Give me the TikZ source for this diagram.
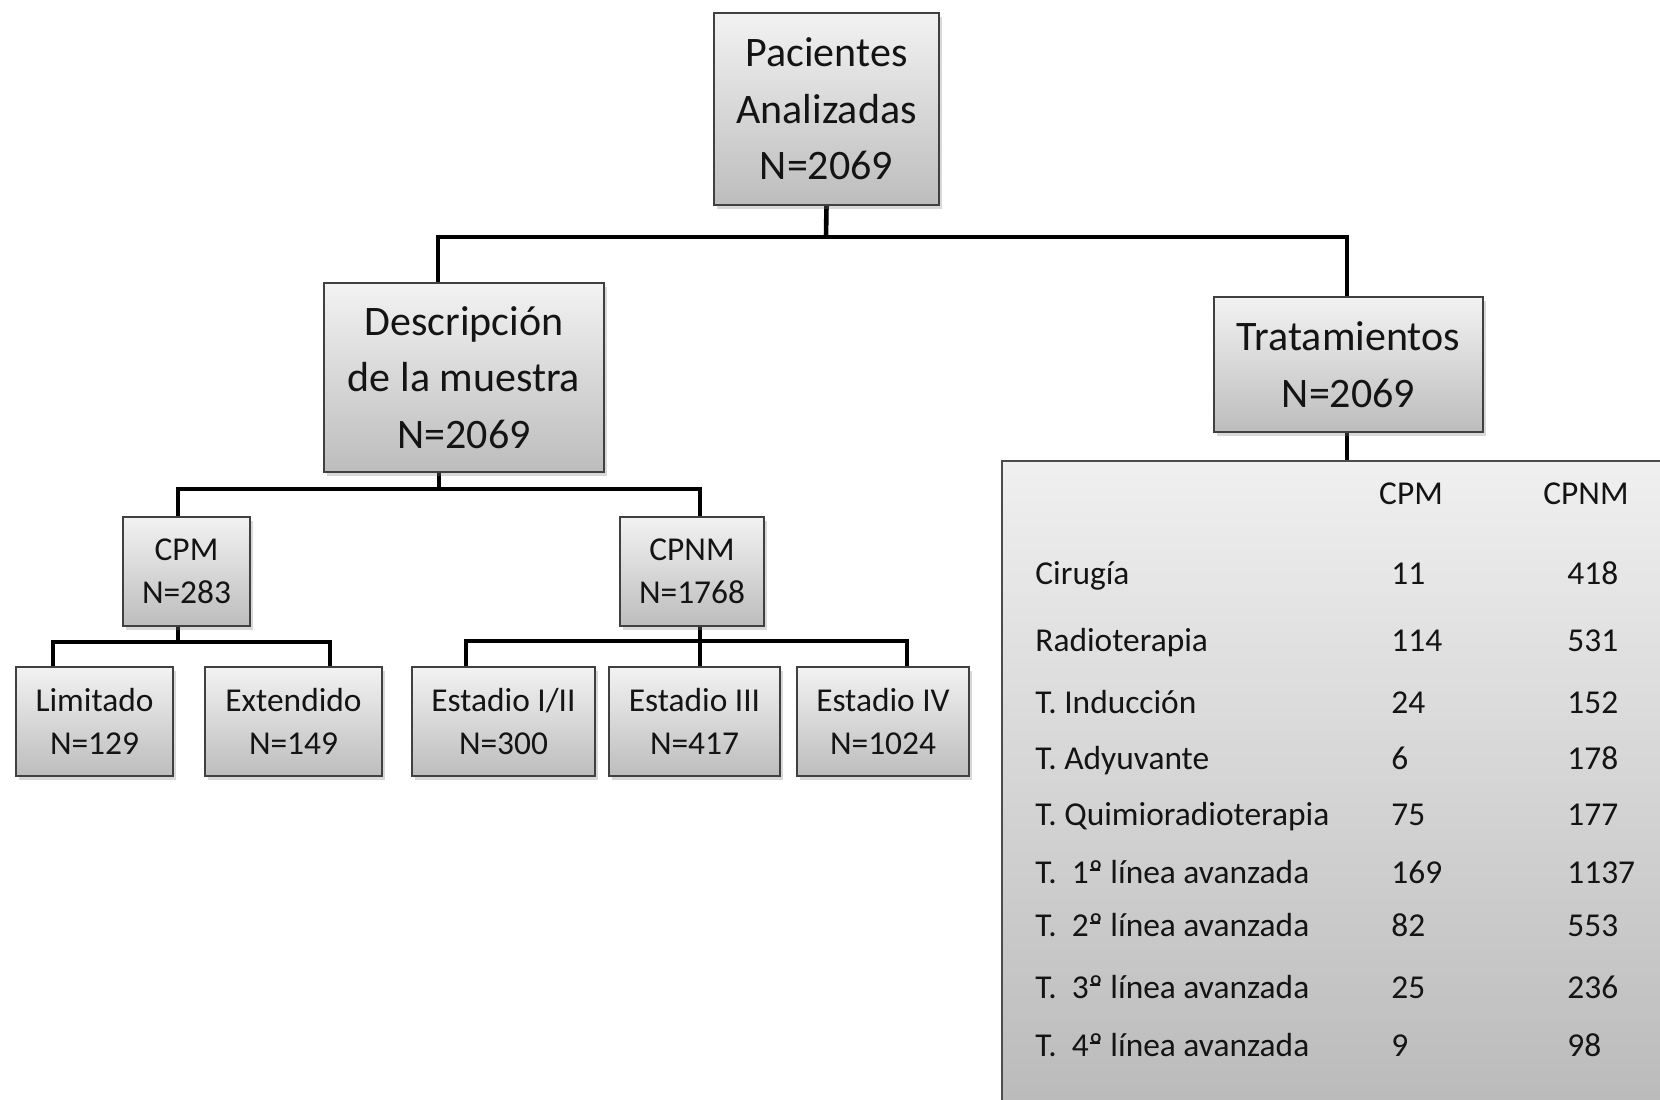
\documentclass[tikz,border=0pt]{standalone}
\usepackage{fontspec}
\setmainfont{Carlito}
\usetikzlibrary{shadows,backgrounds}
\newcommand{\ordul}{\makebox[0pt][l]{\hspace{0.02em}\raisebox{0.36em}{\rule{0.30em}{0.05em}}}º}
\begin{document}
\begin{tikzpicture}[x=0.5pt,y=-0.5pt,
  sz/.style 2 args={minimum width=#1*0.5pt, minimum height=#2*0.5pt},
  box/.style={draw=black!75, line width=0.8pt, top color=black!5, bottom color=black!26,
    drop shadow={shadow xshift=1.5pt, shadow yshift=-2pt, opacity=0.3},
    inner sep=0pt, align=center, text=black!92},
  big/.style={box, font=\fontsize{21}{28.3}\selectfont},
  small/.style={box, font=\fontsize{16.7}{21.5}\selectfont},
  tabbox/.style={draw=black!70, line width=0.8pt, top color=black!6, bottom color=black!28, inner sep=0pt},
  conn/.style={line width=2.3pt, line join=miter, black},
  tt/.style={font=\fontsize{16.7}{20}\selectfont, anchor=base west, inner sep=0pt, text=black!92},
  th/.style={font=\fontsize{16.7}{20}\selectfont, anchor=base, inner sep=0pt, text=black!92}]
\clip (0,0) rectangle (1660,1099);

\node[big, sz={225}{192}] (pac) at (826.5,109) {Pacientes\\Analizadas\\N=2069};
\node[big, sz={280}{189}] (desc) at (464,377.5) {Descripción\\de la muestra\\N=2069};
\node[big, sz={269}{135}] (trat) at (1348.5,364.5) {Tratamientos\\N=2069};
\node[small, sz={127}{109}] (cpm) at (186.5,571.5) {CPM\\N=283};
\node[small, sz={144}{109}] (cpnm) at (692,571.5) {CPNM\\N=1768};
\node[small, sz={157}{109}] (lim) at (94.5,721.5) {Limitado\\N=129};
\node[small, sz={177}{109}] (ext) at (293.5,721.5) {Extendido\\N=149};
\node[small, sz={183}{109}] (e12) at (503.5,721.5) {Estadio I/II\\N=300};
\node[small, sz={171}{109}] (e3) at (694.5,721.5) {Estadio III\\N=417};
\node[small, sz={172}{109}] (e4) at (883,721.5) {Estadio IV\\N=1024};

\node[tabbox, anchor=north west, minimum width=350pt, minimum height=340pt] (tab) at (1001,460) {};

\begin{scope}[on background layer]
\fill[white] (0,0) rectangle (1660,1099);
\draw[conn] (pac.south) -- (826,237);
\draw[conn] (desc.north -| 438,0) |- (1347,237) -- (trat.north -| 1347,0);
\draw[conn] (desc.south -| 439,0) -- (439,489);
\draw[conn] (cpm.north -| 178,0) |- (700,489) -- (cpnm.north -| 700,0);
\draw[conn] (cpm.south -| 178,0) -- (178,642);
\draw[conn] (lim.north -| 53,0) |- (330,642) -- (ext.north -| 330,0);
\draw[conn] (cpnm.south -| 700,0) -- (e3.north -| 700,0);
\draw[conn] (e12.north -| 466,0) |- (907,641) -- (e4.north -| 907,0);
\draw[conn] (trat.south -| 1347,0) -- (tab.north -| 1347,0);
\end{scope}

\node[th] (hcpm) at (1411,504) {CPM};
\node[th] (hcpnm) at (1586,504) {CPNM};

\node[tt] (l1) at (1035,584) {Cirugía};
\node[tt] (a1) at (1391,584) {11};
\node[tt] (b1) at (1567,584) {418};
\node[tt] (l2) at (1035,651) {Radioterapia};
\node[tt] (a2) at (1391,651) {114};
\node[tt] (b2) at (1567,651) {531};
\node[tt] (l3) at (1035,713) {T. Inducción};
\node[tt] (a3) at (1391,713) {24};
\node[tt] (b3) at (1567,713) {152};
\node[tt] (l4) at (1035,769) {T. Adyuvante};
\node[tt] (a4) at (1391,769) {6};
\node[tt] (b4) at (1567,769) {178};
\node[tt] (l5) at (1035,825) {T. Quimioradioterapia};
\node[tt] (a5) at (1391,825) {75};
\node[tt] (b5) at (1567,825) {177};
\node[tt] (l6) at (1035,883) {T.\ \ 1\ordul{} línea avanzada};
\node[tt] (a6) at (1391,883) {169};
\node[tt] (b6) at (1567,883) {1137};
\node[tt] (l7) at (1035,936) {T.\ \ 2\ordul{} línea avanzada};
\node[tt] (a7) at (1391,936) {82};
\node[tt] (b7) at (1567,936) {553};
\node[tt] (l8) at (1035,998) {T.\ \ 3\ordul{} línea avanzada};
\node[tt] (a8) at (1391,998) {25};
\node[tt] (b8) at (1567,998) {236};
\node[tt] (l9) at (1035,1056) {T.\ \ 4\ordul{} línea avanzada};
\node[tt] (a9) at (1391,1056) {9};
\node[tt] (b9) at (1567,1056) {98};
\end{tikzpicture}
\end{document}
